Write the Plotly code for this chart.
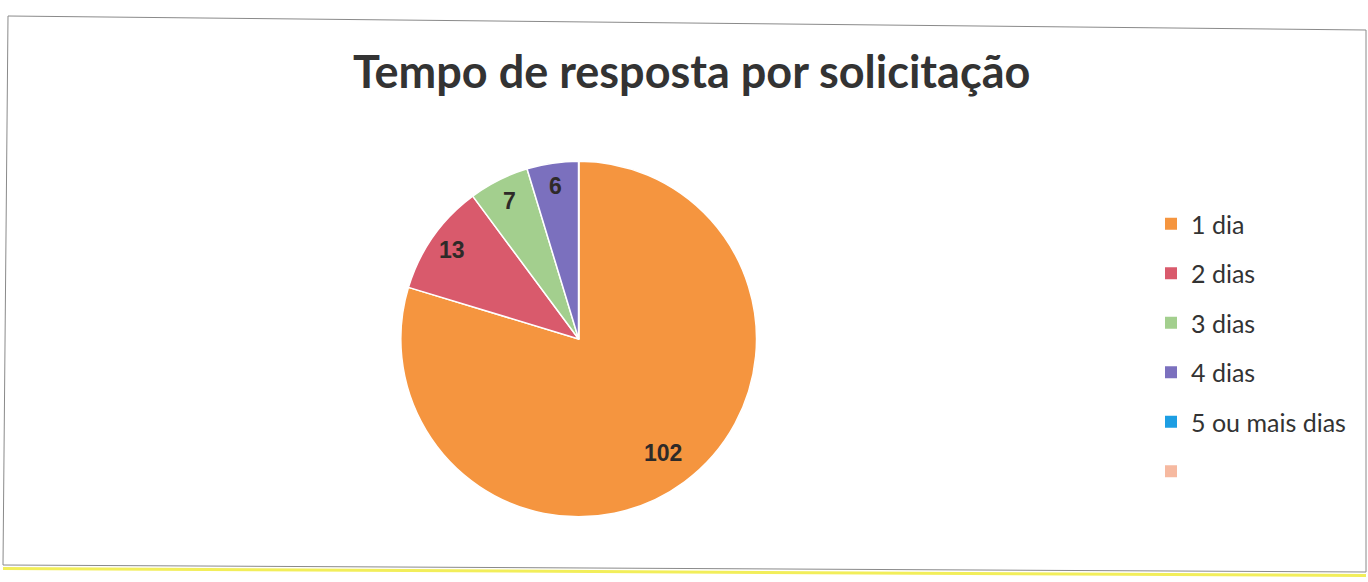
import math
import plotly.graph_objects as go

categories = ["1 dia", "2 dias", "3 dias", "4 dias", "5 ou mais dias", " "]
values = [102, 13, 7, 6, 0, 0]
colors = ["#F5953F", "#D95A6C", "#A3CF8E", "#7B70BE", "#1D9EE3", "#F6B9A0"]
title_text = "Tempo de resposta por solicitação"

W, H = 1368, 582
# pie geometry (paper fractions)
px0, px1 = 0.293, 0.553
py0, py1 = 0.1117, 0.7234

fig = go.Figure()
fig.add_trace(go.Pie(
    labels=categories, values=values, sort=False, direction="clockwise", rotation=0,
    marker=dict(colors=colors, line=dict(color="white", width=1.5)),
    textinfo="none", hoverinfo="label+value", showlegend=False,
    domain=dict(x=[px0, px1], y=[py0, py1]),
))

# legend entries
for i, (c, col) in enumerate(zip(categories, colors)):
    fig.add_trace(go.Scatter(
        x=[None], y=[None], mode="markers", name=c, legendgroup=f"g{i}",
        marker=dict(symbol="square", size=12, color=col),
        showlegend=True,
    ))

# value labels placed along each slice's mid-angle
cx = (px0 + px1) / 2 * W
cy = (py0 + py1) / 2 * H
r = min((px1 - px0) * W, (py1 - py0) * H) / 2
total = sum(values)
cum = 0
annotations = []
for v in values:
    if v > 0:
        mid = (cum + v / 2) / total * 2 * math.pi
        rr = 0.8 * r if v / total > 0.5 else 0.87 * r
        lx = cx + rr * math.sin(mid)
        ly = cy + rr * math.cos(mid)
        annotations.append(dict(
            x=lx / W, y=ly / H, xref="paper", yref="paper", text=f"<b>{v}</b>", showarrow=False,
            font=dict(family="Liberation Sans, Arial", size=23, color="#2e2a28"),
            xanchor="center", yanchor="middle",
        ))
    cum += v

annotations.append(dict(
    x=691 / W, y=1 - 71 / H, xref="paper", yref="paper", text=f"<b>{title_text}</b>", showarrow=False,
    font=dict(family="Lato, Open Sans", size=45, color="#333333"),
    xanchor="center", yanchor="middle",
))

shapes = [
    dict(type="path", xref="paper", yref="paper",
         path=f"M {8/W} {1-16/H} L {1366/W} {1-30/H} L {1366/W} {1-572/H} L {3/W} {1-565/H} Z",
         line=dict(color="#8a8a8a", width=1)),
    dict(type="line", xref="paper", yref="paper", x0=3/W, y0=1-568.5/H, x1=1366/W, y1=1-575.5/H,
         line=dict(color="#F2EE5A", width=3)),
]

fig.update_layout(
    width=W, height=H, margin=dict(l=0, r=0, t=0, b=0),
    paper_bgcolor="white", plot_bgcolor="white",
    xaxis=dict(visible=False), yaxis=dict(visible=False),
    legend=dict(x=1151 / W, y=1 - 201 / H, xanchor="left", yanchor="top",
                font=dict(family="Lato, Open Sans", size=25, color="#333333"),
                tracegroupgap=14, itemwidth=30, bgcolor="rgba(0,0,0,0)"),
    annotations=annotations, shapes=shapes,
)

fig.write_html("out.html")
